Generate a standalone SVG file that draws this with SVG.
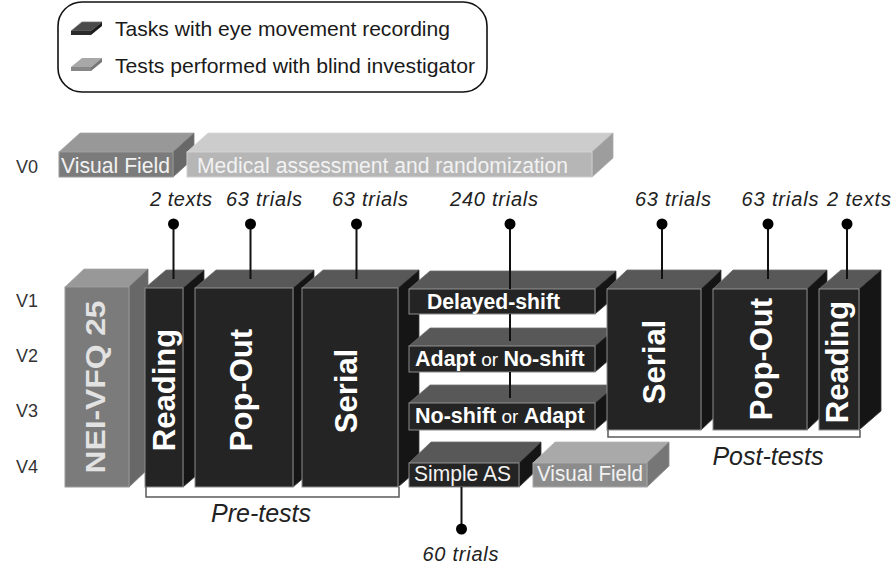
<svg xmlns="http://www.w3.org/2000/svg" width="895" height="566" viewBox="0 0 895 566">
<style>
.df{fill:#242424;stroke:#8c8c8c;stroke-width:1}
.dt{fill:#585858;stroke:#6e6e6e;stroke-width:0.8}
.ds{fill:#151515;stroke:#3a3a3a;stroke-width:0.8}
.gf{fill:#7b7b7b;stroke:#9a9a9a;stroke-width:1}
.gt{fill:#989898;stroke:#a8a8a8;stroke-width:0.8}
.gs{fill:#686868;stroke:#777;stroke-width:0.8}
.lf{fill:#b6b6b6;stroke:#cfcfcf;stroke-width:1}
.lt{fill:#cccccc;stroke:#d8d8d8;stroke-width:0.8}
.ls{fill:#9d9d9d;stroke:#aaa;stroke-width:0.8}
.mf{fill:#8c8c8c;stroke:#a8a8a8;stroke-width:1}
.mt{fill:#a9a9a9;stroke:#b5b5b5;stroke-width:0.8}
.ms{fill:#767676;stroke:#888;stroke-width:0.8}
text{font-family:"Liberation Sans",Arial,sans-serif}
.lbl{font-size:20px;font-style:italic;fill:#222;text-anchor:middle}
.big{font-size:25px;font-style:italic;fill:#222;text-anchor:middle}
.v{font-size:18px;fill:#333}
.rot{font-size:31px;font-weight:bold;fill:#fff;text-anchor:middle}
.bw{font-size:21.5px;font-weight:bold;fill:#fff}
.sm{font-size:19px;font-weight:normal}
.nw{font-size:22px;fill:#f2f2f2}
.leg{font-size:21px;fill:#1a1a1a}
.pin{stroke:#111;stroke-width:2;fill:none}
.dot{fill:#000}
.br{stroke:#5a5a5a;stroke-width:1.5;fill:none}
</style>

<g id="legend">
  <rect x="58" y="2" width="429" height="90" rx="24" fill="#fff" stroke="#111" stroke-width="1.6"/>
  <polygon points="71,31 82,22 102,22 91,31" fill="#4a4a4a" stroke="#6e6e6e" stroke-width="0.8"/>
  <rect x="71" y="31" width="20" height="4" fill="#2a2a2a"/>
  <polygon points="91,31 102,22 102,26 91,35" fill="#1c1c1c"/>
  <text class="leg" x="115" y="36" textLength="335" lengthAdjust="spacingAndGlyphs">Tasks with eye movement recording</text>
  <polygon points="71,67 82,58 102,58 91,67" fill="#a8a8a8"/>
  <rect x="71" y="67" width="20" height="4" fill="#878787"/>
  <polygon points="91,67 102,58 102,62 91,71" fill="#777"/>
  <text class="leg" x="115" y="73" textLength="360" lengthAdjust="spacingAndGlyphs">Tests performed with blind investigator</text>
</g>

<g id="visit-labels">
  <text class="v" x="16" y="173">V0</text>
  <text class="v" x="16" y="307">V1</text>
  <text class="v" x="16" y="362">V2</text>
  <text class="v" x="16" y="417">V3</text>
  <text class="v" x="16" y="473">V4</text>
</g>

<g id="visual-field-v0">
  <polygon class="gt" points="59,152 80,133 194,133 173,152"/>
  <polygon class="gs" points="173,152 194,133 194,158 173,177"/>
  <rect class="gf" x="59" y="152" width="114" height="25"/>
  <text class="nw" x="61" y="173" textLength="109" lengthAdjust="spacingAndGlyphs">Visual Field</text>
</g>

<g id="medical">
  <polygon class="lt" points="187,152 208,133 613,133 592,152"/>
  <polygon class="ls" points="592,152 613,133 613,158 592,177"/>
  <rect class="lf" x="187" y="152" width="405" height="25"/>
  <text class="nw" x="197" y="173" textLength="371" lengthAdjust="spacingAndGlyphs">Medical assessment and randomization</text>
</g>

<g id="nei-vfq">
  <polygon class="gt" points="65,287 84,269 148,269 129,287"/>
  <polygon class="gs" points="129,287 148,269 148,469 129,487"/>
  <rect class="gf" x="65" y="287" width="64" height="200"/>
  <text transform="translate(105,387) rotate(-90)" style="font-size:28px;font-weight:bold;fill:#e2e2e2;text-anchor:middle" textLength="173" lengthAdjust="spacingAndGlyphs">NEI-VFQ 25</text>
</g>

<g id="reading-pre">
  <polygon class="dt" points="145,288 166,270 204,270 183,288"/>
  <polygon class="ds" points="183,288 204,270 204,469 183,487"/>
  <rect class="df" x="145" y="288" width="38" height="199"/>
  <text class="rot" transform="translate(175,390) rotate(-90)">Reading</text>
</g>

<g id="popout-pre">
  <polygon class="dt" points="195,288 216,270 314,270 293,288"/>
  <polygon class="ds" points="293,288 314,270 314,469 293,487"/>
  <rect class="df" x="195" y="288" width="98" height="199"/>
  <text class="rot" transform="translate(252,390) rotate(-90)">Pop-Out</text>
</g>

<g id="serial-pre">
  <polygon class="dt" points="302,288 323,270 419,270 398,288"/>
  <polygon class="ds" points="398,288 419,270 419,469 398,487"/>
  <rect class="df" x="302" y="288" width="96" height="199"/>
  <text class="rot" transform="translate(357,391) rotate(-90)">Serial</text>
</g>

<g id="delayed-shift">
  <polygon class="dt" points="409,289 430,271 616,271 595,289"/>
  <polygon class="ds" points="595,289 616,271 616,296 595,314"/>
  <rect class="df" x="409" y="289" width="186" height="25"/>
  <text class="bw" x="427" y="309" textLength="133" lengthAdjust="spacingAndGlyphs">Delayed-shift</text>
</g>

<g id="adapt-noshift">
  <polygon class="dt" points="409,346 430,328 616,328 595,346"/>
  <polygon class="ds" points="595,346 616,328 616,354 595,372"/>
  <rect class="df" x="409" y="346" width="186" height="26"/>
  <text class="bw" x="415" y="366">Adapt<tspan class="sm"> or </tspan>No-shift</text>
</g>

<g id="noshift-adapt">
  <polygon class="dt" points="409,403 430,385 616,385 595,403"/>
  <polygon class="ds" points="595,403 616,385 616,412 595,430"/>
  <rect class="df" x="409" y="403" width="186" height="27"/>
  <text class="bw" x="415" y="423">No-shift<tspan class="sm"> or </tspan>Adapt</text>
</g>

<g id="simple-as">
  <polygon class="dt" points="409,463 431,442 541,442 519,463"/>
  <polygon class="ds" points="519,463 541,442 541,466 519,487"/>
  <rect class="df" x="409" y="463" width="110" height="24"/>
  <text class="nw" x="414" y="481" textLength="97" lengthAdjust="spacingAndGlyphs">Simple AS</text>
</g>

<g id="visual-field-v4">
  <polygon class="mt" points="533,463 555,442 669,442 647,463"/>
  <polygon class="ms" points="647,463 669,442 669,466 647,487"/>
  <rect class="mf" x="533" y="463" width="114" height="24"/>
  <text class="nw" x="537" y="481" textLength="106" lengthAdjust="spacingAndGlyphs">Visual Field</text>
</g>

<g id="serial-post">
  <polygon class="dt" points="607,289 627,270 721,270 701,289"/>
  <polygon class="ds" points="701,289 721,270 721,411 701,430"/>
  <rect class="df" x="607" y="289" width="94" height="141"/>
  <text class="rot" transform="translate(665,362) rotate(-90)">Serial</text>
</g>

<g id="popout-post">
  <polygon class="dt" points="713,289 733,270 827,270 807,289"/>
  <polygon class="ds" points="807,289 827,270 827,411 807,430"/>
  <rect class="df" x="713" y="289" width="94" height="141"/>
  <text class="rot" transform="translate(772,359) rotate(-90)">Pop-Out</text>
</g>

<g id="reading-post">
  <polygon class="dt" points="819,289 841,270 881,270 859,289"/>
  <polygon class="ds" points="859,289 881,270 881,411 859,430"/>
  <rect class="df" x="819" y="289" width="40" height="141"/>
  <text class="rot" transform="translate(848,362) rotate(-90)">Reading</text>
</g>

<g id="connectors">
  <path class="pin" d="M173.5,224V279M250.5,224V279M356.5,224V279M662,224V279M768,224V279M847,224V279"/>
  <path class="pin" d="M510,224V289M510,314V341M510,372V398"/>
  <path class="pin" d="M461.5,487V529"/>
  <circle class="dot" cx="173.5" cy="224" r="5.5"/>
  <circle class="dot" cx="250.5" cy="224" r="5.5"/>
  <circle class="dot" cx="356.5" cy="224" r="5.5"/>
  <circle class="dot" cx="510" cy="224" r="5.5"/>
  <circle class="dot" cx="662" cy="224" r="5.5"/>
  <circle class="dot" cx="768" cy="224" r="5.5"/>
  <circle class="dot" cx="847" cy="224" r="5.5"/>
  <circle class="dot" cx="461.5" cy="529" r="5.5"/>
  <path class="br" d="M146,487V497H399V487"/>
  <path class="br" d="M608,430V437H860V430"/>
</g>

<g id="annotations">
  <text class="lbl" x="181" y="206" textLength="62" lengthAdjust="spacing">2 texts</text>
  <text class="lbl" x="264" y="206" textLength="76" lengthAdjust="spacing">63 trials</text>
  <text class="lbl" x="370" y="206" textLength="76" lengthAdjust="spacing">63 trials</text>
  <text class="lbl" x="494" y="206" textLength="88" lengthAdjust="spacing">240 trials</text>
  <text class="lbl" x="673" y="206" textLength="76" lengthAdjust="spacing">63 trials</text>
  <text class="lbl" x="780" y="206" textLength="77" lengthAdjust="spacing">63 trials</text>
  <text class="lbl" x="859" y="206" textLength="64" lengthAdjust="spacing">2 texts</text>
  <text class="lbl" x="460.5" y="561" textLength="76" lengthAdjust="spacing">60 trials</text>
  <text class="big" x="261" y="522">Pre-tests</text>
  <text class="big" x="768" y="465">Post-tests</text>
</g>
</svg>
